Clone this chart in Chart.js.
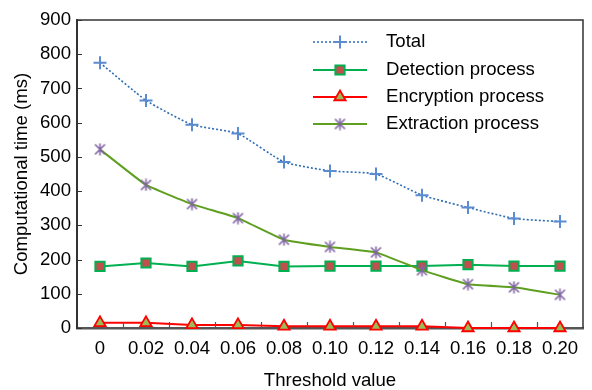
<!DOCTYPE html>
<html>
<head>
<meta charset="utf-8">
<script src="https://cdn.jsdelivr.net/npm/chart.js@4/dist/chart.umd.min.js"></script>
<style>
  html, body { margin: 0; padding: 0; background: #fff; }
  #wrap { width: 592px; height: 390px; }
</style>
</head>
<body>
<div id="wrap"><canvas id="c" width="592" height="390"></canvas></div>
<script>
const thresholds = ['0', '0.02', '0.04', '0.06', '0.08', '0.10', '0.12', '0.14', '0.16', '0.18', '0.20'];
const totalTime = [775, 665, 594, 568, 485, 459, 450, 388, 352, 320, 311];
const detectionTime = [180, 190, 180, 196, 180, 181, 181, 181, 185, 181, 181];
const encryptionTime = [15, 15, 9, 9, 5, 5, 5, 5, 0, 0, 0];
const extractionTime = [522, 418, 362, 321, 258, 237, 221, 169, 128, 119, 97];
const seriesNames = ['Total', 'Detection process', 'Encryption process', 'Extraction process'];
const yTicks = [0, 100, 200, 300, 400, 500, 600, 700, 800, 900];

const FONT = '"Liberation Sans", Arial, sans-serif';
const FS = 18.6;

function makeStar(size, color, lw) {
  const c = document.createElement('canvas');
  c.width = size; c.height = size;
  const g = c.getContext('2d');
  g.strokeStyle = color; g.lineWidth = lw; g.lineCap = 'butt';
  const m = 1.5;
  g.beginPath();
  g.moveTo(m, m); g.lineTo(size - m, size - m);
  g.moveTo(size - m, m); g.lineTo(m, size - m);
  g.moveTo(size / 2, 0.5); g.lineTo(size / 2, size - 0.5);
  g.stroke();
  return c;
}
const starImg = makeStar(13, '#8064A2', 1.6);

const boxAndTicks = {
  id: 'boxAndTicks',
  afterDatasetsDraw(chart) {
    const ctx = chart.ctx;
    const a = chart.chartArea;
    const x = chart.scales.x, y = chart.scales.y;
    ctx.save();
    ctx.strokeStyle = '#333';
    ctx.lineWidth = 1.5;
    ctx.beginPath();
    ctx.moveTo(a.left, a.top); ctx.lineTo(a.right, a.top); ctx.lineTo(a.right, a.bottom);
    ctx.stroke();
    ctx.lineWidth = 1.2;
    ctx.beginPath();
    yTicks.forEach(v => {
      const py = Math.round(y.getPixelForValue(v)) + 0.5;
      ctx.moveTo(a.left, py); ctx.lineTo(a.left + 5, py);
    });
    ctx.stroke();
    ctx.strokeStyle = '#555';
    ctx.beginPath();
    for (let i = 1; i < thresholds.length; i++) {
      const px = Math.round((x.getPixelForValue(i - 1) + x.getPixelForValue(i)) / 2) + 0.5;
      ctx.moveTo(px, a.bottom); ctx.lineTo(px, a.bottom - 6);
    }
    ctx.stroke();
    ctx.restore();
  }
};

const legendInside = {
  id: 'legendInside',
  afterDraw(chart) {
    const ctx = chart.ctx;
    const a = chart.chartArea;
    const x0 = a.left + 236, x1 = a.left + 290, xm = (x0 + x1) / 2, xt = a.left + 309;
    const rows = [a.top + 22, a.top + 50, a.top + 77, a.top + 104];
    ctx.save();
    chart.data.datasets.forEach((ds, i) => {
      const yy = rows[i];
      ctx.strokeStyle = ds.borderColor;
      ctx.lineWidth = ds.borderWidth;
      ctx.setLineDash(ds.borderDash || []);
      ctx.beginPath(); ctx.moveTo(x0, yy); ctx.lineTo(x1, yy); ctx.stroke();
      ctx.setLineDash([]);
      ctx.fillStyle = ds.pointBackgroundColor;
      ctx.strokeStyle = ds.pointBorderColor;
      ctx.lineWidth = ds.pointBorderWidth;
      Chart.helpers.drawPoint(ctx, {pointStyle: ds.pointStyle, radius: ds.pointRadius, borderWidth: ds.pointBorderWidth, rotation: 0}, xm, yy);
      ctx.fillStyle = '#000';
      ctx.font = FS + 'px ' + FONT;
      ctx.textBaseline = 'middle';
      ctx.textAlign = 'left';
      ctx.fillText(ds.label, xt, yy);
    });
    ctx.restore();
  }
};

new Chart(document.getElementById('c'), {
  type: 'line',
  data: {
    labels: thresholds,
    datasets: [
      {
        label: seriesNames[0], data: totalTime,
        borderColor: '#2E6DB4', borderWidth: 1.6, borderDash: [2, 2],
        pointStyle: 'cross', pointRadius: 6.5, pointBorderWidth: 2,
        pointBorderColor: '#5B8BD0', pointBackgroundColor: '#5B8BD0',
        tension: 0.15, clip: false, order: 1
      },
      {
        label: seriesNames[1], data: detectionTime,
        borderColor: '#00B050', borderWidth: 2,
        pointStyle: 'rect', pointRadius: 6.5, pointBorderWidth: 2,
        pointBorderColor: '#00B050', pointBackgroundColor: '#C0504D',
        tension: 0, clip: false, order: 3
      },
      {
        label: seriesNames[2], data: encryptionTime,
        borderColor: '#FF0000', borderWidth: 2,
        pointStyle: 'triangle', pointRadius: 6.5, pointBorderWidth: 1.8,
        pointBorderColor: '#FF0000', pointBackgroundColor: '#9BBB59',
        tension: 0, clip: false, order: 4
      },
      {
        label: seriesNames[3], data: extractionTime,
        borderColor: '#5E9F1F', borderWidth: 2,
        pointStyle: starImg, pointRadius: 6.5, pointBorderWidth: 1.6,
        pointBorderColor: '#8064A2', pointBackgroundColor: '#8064A2',
        tension: 0.1, clip: false, order: 2
      }
    ]
  },
  options: {
    responsive: false,
    animation: false,
    devicePixelRatio: 1,
    layout: { padding: { top: 20, right: 9, left: 0, bottom: 0 } },
    plugins: { legend: { display: false }, tooltip: { enabled: false } },
    scales: {
      x: {
        offset: true,
        grid: { display: false, drawTicks: false },
        border: { display: true, color: '#555', width: 2.5 },
        ticks: { color: '#000', font: { family: FONT, size: FS }, padding: 10, maxRotation: 0, autoSkip: false },
        title: { display: true, text: 'Threshold value', color: '#000', font: { family: FONT, size: FS, lineHeight: 1 }, padding: { top: 0, bottom: 0 } },
        afterFit(s) { s.height = 62; }
      },
      y: {
        min: 0, max: 900,
        grid: { display: false, drawTicks: false },
        border: { display: true, color: '#333', width: 2 },
        ticks: { stepSize: 100, color: '#000', font: { family: FONT, size: FS }, padding: 6 },
        title: { display: true, text: 'Computational time (ms)', color: '#000', font: { family: FONT, size: FS, lineHeight: 1 }, padding: { top: 13, bottom: 0 } },
        afterFit(s) { s.width = 77; }
      }
    }
  },
  plugins: [boxAndTicks, legendInside]
});
</script>
</body>
</html>
